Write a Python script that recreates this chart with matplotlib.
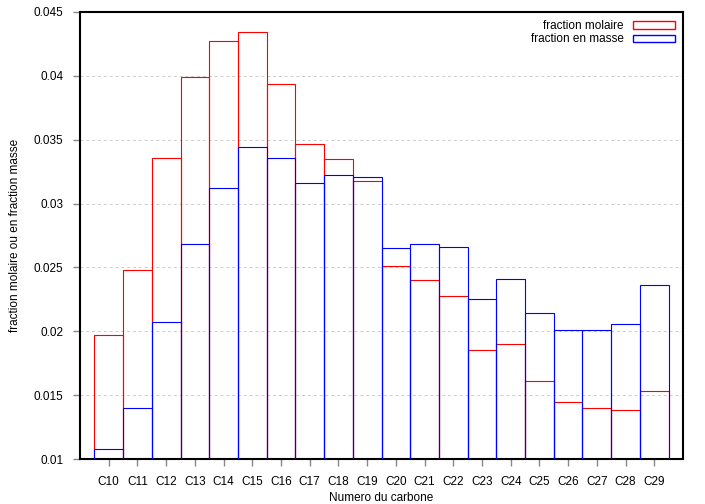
import numpy as np
import matplotlib.pyplot as plt
from matplotlib.patches import Patch
from matplotlib.ticker import FormatStrFormatter

plt.rcParams['font.family'] = ['Liberation Sans', 'DejaVu Sans']

carbones = ['C10', 'C11', 'C12', 'C13', 'C14', 'C15', 'C16', 'C17', 'C18', 'C19',
            'C20', 'C21', 'C22', 'C23', 'C24', 'C25', 'C26', 'C27', 'C28', 'C29']
frac_molaire = [0.0197, 0.0248, 0.0336, 0.0399, 0.0427, 0.0434, 0.0394, 0.0347, 0.0335, 0.0318,
                0.0251, 0.0240, 0.0228, 0.0185, 0.0190, 0.0161, 0.0145, 0.0140, 0.0138, 0.0153]
frac_masse = [0.0108, 0.0140, 0.0207, 0.0268, 0.0312, 0.0344, 0.0336, 0.0316, 0.0322, 0.0321,
              0.0265, 0.0268, 0.0266, 0.0225, 0.0241, 0.0214, 0.0201, 0.0201, 0.0206, 0.0236]

x = np.arange(len(carbones))

fig = plt.figure(figsize=(7.05, 5.04), dpi=100)
ax = fig.add_axes([80 / 705, 45 / 504, 603 / 705, 447 / 504])

ax.bar(x, frac_molaire, width=1.0, fill=False, edgecolor='#ff0000', linewidth=0.8, zorder=2)
ax.bar(x, frac_masse, width=1.0, fill=False, edgecolor='#0000ff', linewidth=0.8, zorder=3)

ax.set_xlim(-1, 20)
ax.set_ylim(0.01, 0.045)
ax.set_yticks(np.arange(0.01, 0.0451, 0.005))
ax.yaxis.set_major_formatter(FormatStrFormatter('%g'))
ax.set_xticks(x)
ax.set_xticklabels(carbones)
ax.tick_params(axis='both', direction='out', length=5, width=1, color='#888888',
               labelsize=8.5, pad=7)
ax.grid(axis='y', linestyle=(0, (3, 3)), color='#cccccc', linewidth=0.7, zorder=0)
for s in ax.spines.values():
    s.set_linewidth(1.5)

ax.set_xlabel('Numero du carbone', fontsize=8.5, labelpad=3)
ax.set_ylabel('fraction molaire ou en fraction masse', fontsize=8.5, labelpad=9)

handles = [Patch(facecolor='none', edgecolor='#ff0000', label='fraction molaire'),
           Patch(facecolor='none', edgecolor='#0000ff', label='fraction en masse')]
leg = ax.legend(handles=handles, loc='upper right', frameon=False, markerfirst=False,
                fontsize=8.5, handlelength=3.5, handleheight=0.6, labelspacing=0.1,
                borderaxespad=0.3)
for t in leg.get_texts():
    t.set_ha('right')

fig.savefig('out.png', dpi=100)
